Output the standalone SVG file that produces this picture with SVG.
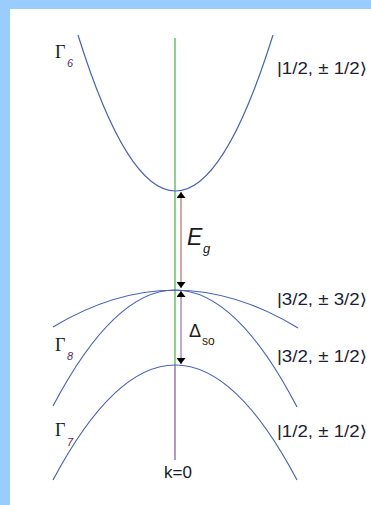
<svg xmlns="http://www.w3.org/2000/svg" width="371" height="505" viewBox="0 0 371 505">
<style>
.band{fill:none;stroke:#4862bf;stroke-width:1.2}
.gam{font-family:"Liberation Serif","DejaVu Serif",serif;font-size:18px;fill:#1a1a1a}
.sub{font-family:"Liberation Sans","DejaVu Sans",sans-serif;font-size:11px;font-style:italic;fill:#5a2a6a}
.st{font-family:"Liberation Sans","DejaVu Sans",sans-serif;font-size:16px;fill:#1c1c40}
.lab{font-family:"Liberation Sans","DejaVu Sans",sans-serif;fill:#1a1a1a}
</style>
<defs>
<marker id="ah" viewBox="0 0 10 10" refX="10" refY="5" markerWidth="6" markerHeight="9" markerUnits="userSpaceOnUse" orient="auto-start-reverse" preserveAspectRatio="none">
<path d="M0,0 L10,5 L0,10 Z" fill="#000"/>
</marker>
</defs>
<rect x="0" y="0" width="371" height="505" fill="#fff"/>
<rect x="0" y="0" width="371" height="9" fill="#99ccff"/>
<rect x="0" y="0" width="10" height="505" fill="#99ccff"/>

<g id="connectors">
<line x1="175" y1="38" x2="175" y2="365" stroke="#3cb83c" stroke-width="1.2"/>
<line x1="175" y1="365" x2="175" y2="460" stroke="#8a4f9f" stroke-width="1.2"/>
<line x1="181" y1="192" x2="181" y2="288" stroke="#b0503c" stroke-width="1" marker-start="url(#ah)" marker-end="url(#ah)"/>
<line x1="181" y1="291" x2="181" y2="364" stroke="#8a4f9f" stroke-width="1" marker-start="url(#ah)" marker-end="url(#ah)"/>
</g>

<g id="gamma6">
<path class="band" d="M78,35 Q175.5,347 273,35"/>
<text class="gam" x="55" y="58">Γ</text>
<text class="sub" x="67" y="67">6</text>
<text class="st" x="277" y="74" textLength="90" lengthAdjust="spacingAndGlyphs">|1/2, ±  1/2⟩</text>
</g>

<g id="gamma8">
<path class="band" d="M53,327 Q175.5,253 298,328"/>
<path class="band" d="M53,406 Q175.5,173.5 297,407"/>
<text class="gam" x="55" y="351">Γ</text>
<text class="sub" x="67" y="360">8</text>
<text class="st" x="277" y="305" textLength="90" lengthAdjust="spacingAndGlyphs">|3/2, ±  3/2⟩</text>
<text class="st" x="277" y="362" textLength="90" lengthAdjust="spacingAndGlyphs">|3/2, ±  1/2⟩</text>
</g>

<g id="gamma7">
<path class="band" d="M53,480 Q175.5,250 297,480"/>
<text class="gam" x="55" y="436">Γ</text>
<text class="sub" x="67" y="446">7</text>
<text class="st" x="277" y="437" textLength="90" lengthAdjust="spacingAndGlyphs">|1/2, ±  1/2⟩</text>
</g>

<g id="Eg">
<text class="lab" x="187" y="245" font-size="23" font-style="italic">E</text>
<text class="lab" x="203" y="253" font-size="13" font-style="italic">g</text>
</g>

<g id="Dso">
<text class="lab" x="189" y="337" font-size="18">Δ</text>
<text class="lab" x="202" y="345" font-size="12">so</text>
</g>

<g id="k0">
<text class="lab" x="178" y="478" font-size="17" text-anchor="middle">k=0</text>
</g>
</svg>
